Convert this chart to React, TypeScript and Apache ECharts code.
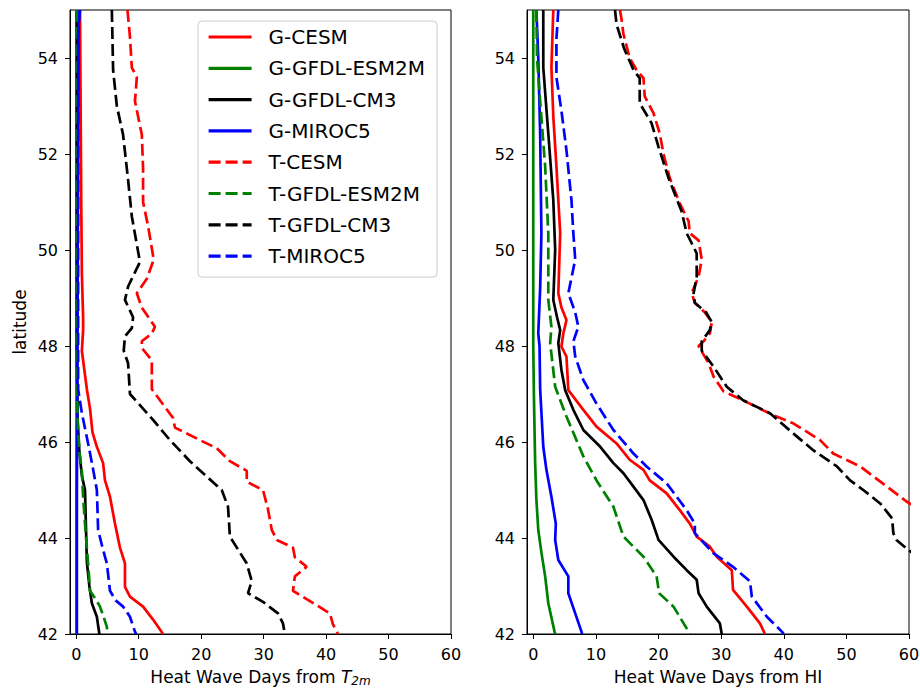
import React, { useEffect, useRef } from "react";
import * as echarts from "echarts";

const FONT = "DejaVu Sans";

const seriesNames = [
  "G-CESM",
  "G-GFDL-ESM2M",
  "G-GFDL-CM3",
  "G-MIROC5",
  "T-CESM",
  "T-GFDL-ESM2M",
  "T-GFDL-CM3",
  "T-MIROC5",
];
const seriesColors = ["#ff0000", "#008000", "#000000", "#0000ff", "#ff0000", "#008000", "#000000", "#0000ff"];
const seriesDashed = [false, false, false, false, true, true, true, true];

const xTicks = [0, 10, 20, 30, 40, 50, 60];
const yTicks = [42, 44, 46, 48, 50, 52, 54];

// Left panel: [heat wave days from T2m, latitude]
const leftGCESM = [[0.6,55],[0.7,53],[0.8,51],[0.9,49.5],[1.1,48.6],[1.1,48.33],[0.9,47.9],[1.3,47.5],[1.7,47.1],[2.2,46.7],[2.6,46.2],[3.3,45.9],[4.3,45.56],[4.6,45.2],[5.4,44.86],[6.2,44.3],[7.0,43.8],[7.8,43.47],[7.8,42.98],[8.6,42.78],[10.7,42.57],[12.3,42.3],[13.9,42.0]];
const leftGESM2M = [[0.05,55],[0.05,50],[0.05,46],[0.05,42]];
const leftGCM3 = [[0.1,55],[0.1,48],[0.2,46.5],[0.5,45.8],[0.9,45.3],[1.4,45.0],[1.5,44.5],[1.7,43.5],[2.1,43.0],[2.5,42.64],[3.3,42.36],[3.7,42.0]];
const leftGMIROC5 = [[0.4,55],[0.3,52],[0.2,48],[0.1,45],[0.1,42]];
const leftTCESM = [[8.2,55],[8.6,54.44],[8.9,53.8],[9.7,53.6],[9.4,53.1],[10.5,52.4],[10.7,51.7],[10.7,51.0],[11.5,50.5],[12.4,49.8],[11.3,49.4],[9.7,49.1],[10.5,48.8],[12.6,48.4],[12.1,48.26],[10.5,48.1],[10.5,47.96],[12.1,47.7],[12.1,47.1],[15.5,46.5],[15.8,46.3],[19.8,46.04],[22.5,45.87],[24.6,45.6],[27.3,45.4],[27.3,45.17],[29.9,45.0],[30.7,44.6],[31.3,44.17],[32.1,43.96],[34.7,43.8],[35.0,43.6],[36.9,43.4],[35.0,43.2],[34.7,42.9],[38.5,42.6],[40.6,42.43],[41.1,42.2],[41.9,42.0]];
const leftTESM2M = [[0.1,55],[0.1,48],[0.2,46.5],[0.5,45.8],[0.9,45.4],[1.1,44.86],[1.4,44.3],[1.7,43.8],[2.0,43.3],[2.2,42.9],[3.0,42.75],[3.8,42.57],[4.4,42.35],[4.9,42.15],[5.0,42.0]];
const leftTCM3 = [[5.7,55],[5.8,54.4],[5.9,53.75],[6.5,53.0],[7.5,52.4],[8.3,51.46],[8.9,50.7],[10.2,49.75],[8.3,49.24],[7.8,48.96],[9.1,48.6],[8.9,48.37],[7.8,48.2],[7.6,47.9],[8.3,47.64],[8.6,47.0],[12.3,46.46],[15.0,46.04],[18.2,45.6],[20.9,45.28],[23.3,45.0],[24.3,44.65],[24.6,44.03],[27.3,43.47],[28.1,43.1],[27.5,42.85],[29.9,42.67],[32.3,42.43],[33.1,42.22],[33.4,42.0]];
const leftTMIROC5 = [[0.6,55],[0.3,54.5],[0.3,52],[0.3,50],[0.3,48],[0.3,47.1],[0.9,46.6],[1.9,45.97],[2.6,45.5],[3.3,45.0],[3.4,44.6],[3.5,44.17],[4.2,43.8],[4.9,43.47],[5.4,42.9],[6.3,42.7],[7.5,42.57],[8.6,42.36],[9.4,42.05],[9.6,42.0]];

// Right panel: [heat wave days from HI, latitude]
const rightGCESM = [[3.2,55],[2.9,53.8],[3.2,52.78],[3.7,51.74],[4.3,50.35],[4.0,49.1],[4.5,48.8],[5.3,48.54],[4.8,48.26],[4.5,47.99],[5.3,47.78],[5.6,47.08],[8.0,46.67],[10.1,46.32],[13.3,45.97],[15.4,45.63],[17.6,45.42],[18.6,45.2],[21.3,44.93],[23.4,44.58],[25.0,44.3],[26.1,44.03],[28.2,43.82],[29.3,43.61],[31.7,43.33],[31.9,42.92],[34.1,42.57],[36.2,42.22],[37.0,42.0]];
const rightGESM2M = [[0,55],[0,48],[0.1,47],[0.3,45.56],[0.5,44.8],[0.8,44.17],[1.3,43.7],[1.9,43.2],[2.4,42.64],[3.4,42.05],[3.5,42]];
const rightGCM3 = [[1.6,55],[1.6,53.8],[2.4,52.43],[3.2,51.04],[3.5,50.0],[3.2,48.96],[3.8,48.6],[4.3,48.33],[4.0,48.06],[4.5,47.5],[5.1,47.08],[6.4,46.67],[8.0,46.25],[10.7,45.9],[12.8,45.56],[14.4,45.35],[16.0,45.07],[17.6,44.79],[18.9,44.38],[20.0,43.96],[22.4,43.61],[24.5,43.33],[26.1,43.13],[26.4,42.85],[27.7,42.57],[29.8,42.22],[30.1,42.0]];
const rightGMIROC5 = [[0.5,55],[0.8,54],[1.1,52.43],[1.3,50.35],[1.1,49.2],[0.8,48.26],[1.0,48],[1.1,47.1],[1.6,45.9],[2.1,45.42],[2.9,44.86],[3.6,44.3],[3.5,43.96],[4.0,43.54],[5.6,43.2],[5.6,42.85],[6.7,42.43],[7.7,42.05],[7.8,42]];
const rightTCESM = [[13.85,55],[14.1,54.8],[14.4,54.5],[15.4,54.0],[16.5,53.75],[17.6,53.58],[17.8,53.2],[19.2,52.85],[20.2,52.43],[20.8,52.0],[21.8,51.5],[23.4,50.97],[24.8,50.6],[25.0,50.35],[26.4,50.2],[26.9,49.8],[26.4,49.44],[25.3,49.1],[25.8,48.9],[27.4,48.7],[28.5,48.5],[28.2,48.26],[27.2,48.1],[26.4,48.0],[28.0,47.64],[28.8,47.36],[30.4,47.05],[33.0,46.9],[38.3,46.56],[41.5,46.39],[45.8,46.04],[47.9,45.76],[52.2,45.49],[56.5,45.07],[59.6,44.76],[61,44.65]];
const rightTESM2M = [[0.5,55],[0.6,54],[1.1,53.1],[1.9,51.74],[2.4,50.35],[2.4,48.96],[2.9,48.4],[2.7,48.06],[3.5,47.15],[5.3,46.53],[8.0,45.7],[10.1,45.2],[12.8,44.65],[14.4,44.03],[17.6,43.61],[19.7,43.2],[20.1,42.85],[22.4,42.57],[24.8,42.05],[25.0,42]];
const rightTCM3 = [[13.05,55],[13.3,54.7],[14.5,54.2],[16.0,53.75],[17.0,53.58],[17.0,53.06],[18.9,52.64],[20.0,52.15],[21.6,51.5],[23.7,50.8],[24.5,50.35],[26.1,49.93],[26.1,49.44],[25.6,49.1],[25.8,48.9],[27.6,48.7],[28.5,48.5],[28.2,48.33],[26.9,48.1],[26.9,47.9],[28.8,47.57],[30.9,47.15],[33.5,46.87],[37.8,46.6],[41.5,46.18],[44.7,45.83],[48.5,45.49],[50.6,45.2],[52.7,45.0],[55.4,44.72],[57.3,44.41],[57.5,44.1],[58.0,43.96],[59.9,43.75],[61,43.65]];
const rightTMIROC5 = [[4.0,55],[3.7,54.4],[3.7,53.6],[4.5,52.9],[5.3,52.08],[6.1,51.04],[6.4,50.35],[6.7,49.8],[5.6,49.1],[6.7,48.7],[7.2,48.4],[6.4,48.1],[6.7,47.78],[8.0,47.29],[10.1,46.8],[12.8,46.25],[16.0,45.76],[18.1,45.49],[21.3,45.14],[24.5,44.58],[25.8,44.3],[25.8,44.1],[28.8,43.68],[31.9,43.4],[34.6,43.1],[34.9,42.78],[37.3,42.36],[39.7,42.05],[40.0,42]];

const leftData = [leftGCESM, leftGESM2M, leftGCM3, leftGMIROC5, leftTCESM, leftTESM2M, leftTCM3, leftTMIROC5];
const rightData = [rightGCESM, rightGESM2M, rightGCM3, rightGMIROC5, rightTCESM, rightTESM2M, rightTCM3, rightTMIROC5];

function makeSeries(data: number[][][], idx: number) {
  return data.map((d, i) => ({
    type: "line",
    name: seriesNames[i],
    xAxisIndex: idx,
    yAxisIndex: idx,
    data: d,
    symbol: "none",
    showSymbol: false,
    clip: true,
    silent: true,
    lineStyle: {
      color: seriesColors[i],
      width: 2.7,
      type: seriesDashed[i] ? [12, 5] : "solid",
      cap: "butt",
    },
    itemStyle: { color: seriesColors[i] },
    z: 2 + i * 0.01,
  }));
}

function xAxisCfg(idx: number, name: string, rich?: any, gap = 34) {
  return {
    type: "value",
    gridIndex: idx,
    min: -1,
    max: 60,
    name,
    nameLocation: "middle",
    nameGap: gap,
    nameTextStyle: { fontSize: 17, color: "#000", fontFamily: FONT, rich },
    axisLine: { show: true, onZero: false, lineStyle: { color: "#000", width: 1 } },
    axisTick: { show: true, inside: false, length: 5, customValues: xTicks, lineStyle: { color: "#000", width: 1 } },
    axisLabel: { show: true, margin: 12, customValues: xTicks, fontSize: 16, color: "#000", fontFamily: FONT },
    splitLine: { show: false },
  };
}

function yAxisCfg(idx: number, name: string) {
  return {
    type: "value",
    gridIndex: idx,
    min: 42,
    max: 55,
    name,
    nameLocation: "middle",
    nameGap: 42,
    nameTextStyle: { fontSize: 17, color: "#000", fontFamily: FONT },
    axisLine: { show: true, onZero: false, lineStyle: { color: "#000", width: 1 } },
    axisTick: { show: true, inside: false, length: 5, customValues: yTicks, lineStyle: { color: "#000", width: 1 } },
    axisLabel: { show: true, margin: 12, customValues: yTicks, fontSize: 16, color: "#000", fontFamily: FONT },
    splitLine: { show: false },
  };
}

export default function App() {
  const ref = useRef<HTMLDivElement>(null);
  useEffect(() => {
    if (!ref.current) return;
    const chart = echarts.init(ref.current, undefined, { renderer: "svg" });
    const option: any = {
      animation: false,
      backgroundColor: "#ffffff",
      textStyle: { fontFamily: FONT },
      grid: [
        { left: 70, top: 10, width: 381, height: 624, show: true, borderColor: "#000", borderWidth: 1, backgroundColor: "transparent", containLabel: false, outerBoundsMode: "none" },
        { left: 527, top: 10, width: 382, height: 624, show: true, borderColor: "#000", borderWidth: 1, backgroundColor: "transparent", containLabel: false, outerBoundsMode: "none" },
      ],
      xAxis: [
        xAxisCfg(0, "{n|Heat Wave Days from }{t|T}{s|2m}", {
          n: { fontSize: 17, color: "#000", fontFamily: FONT },
          t: { fontSize: 17, color: "#000", fontFamily: FONT, fontStyle: "italic" },
          s: { fontSize: 12, color: "#000", fontFamily: FONT, fontStyle: "italic", padding: [9, 0, 0, 0] },
        }, 32),
        xAxisCfg(1, "Heat Wave Days from HI", undefined, 34),
      ],
      yAxis: [yAxisCfg(0, "latitude"), yAxisCfg(1, "")],
      legend: {
        orient: "vertical",
        left: 198,
        top: 21,
        padding: [6, 12, 11, 9],
        itemGap: 11.3,
        itemWidth: 43,
        itemHeight: 14,
        backgroundColor: "rgba(255,255,255,0.8)",
        borderColor: "#cccccc",
        borderWidth: 1,
        borderRadius: 4,
        selectedMode: false,
        itemStyle: { opacity: 0, borderWidth: 0 },
        lineStyle: { width: 3.2 },
        textStyle: { fontSize: 20, color: "#000", fontFamily: FONT, padding: [0, 0, 0, 12] },
        data: seriesNames,
      },
      series: [...makeSeries(leftData, 0), ...makeSeries(rightData, 1)],
    };
    chart.setOption(option);
    return () => chart.dispose();
  }, []);
  return <div ref={ref} style={{ position: "absolute", left: 0, top: 0, width: 920, height: 689 }} />;
}
